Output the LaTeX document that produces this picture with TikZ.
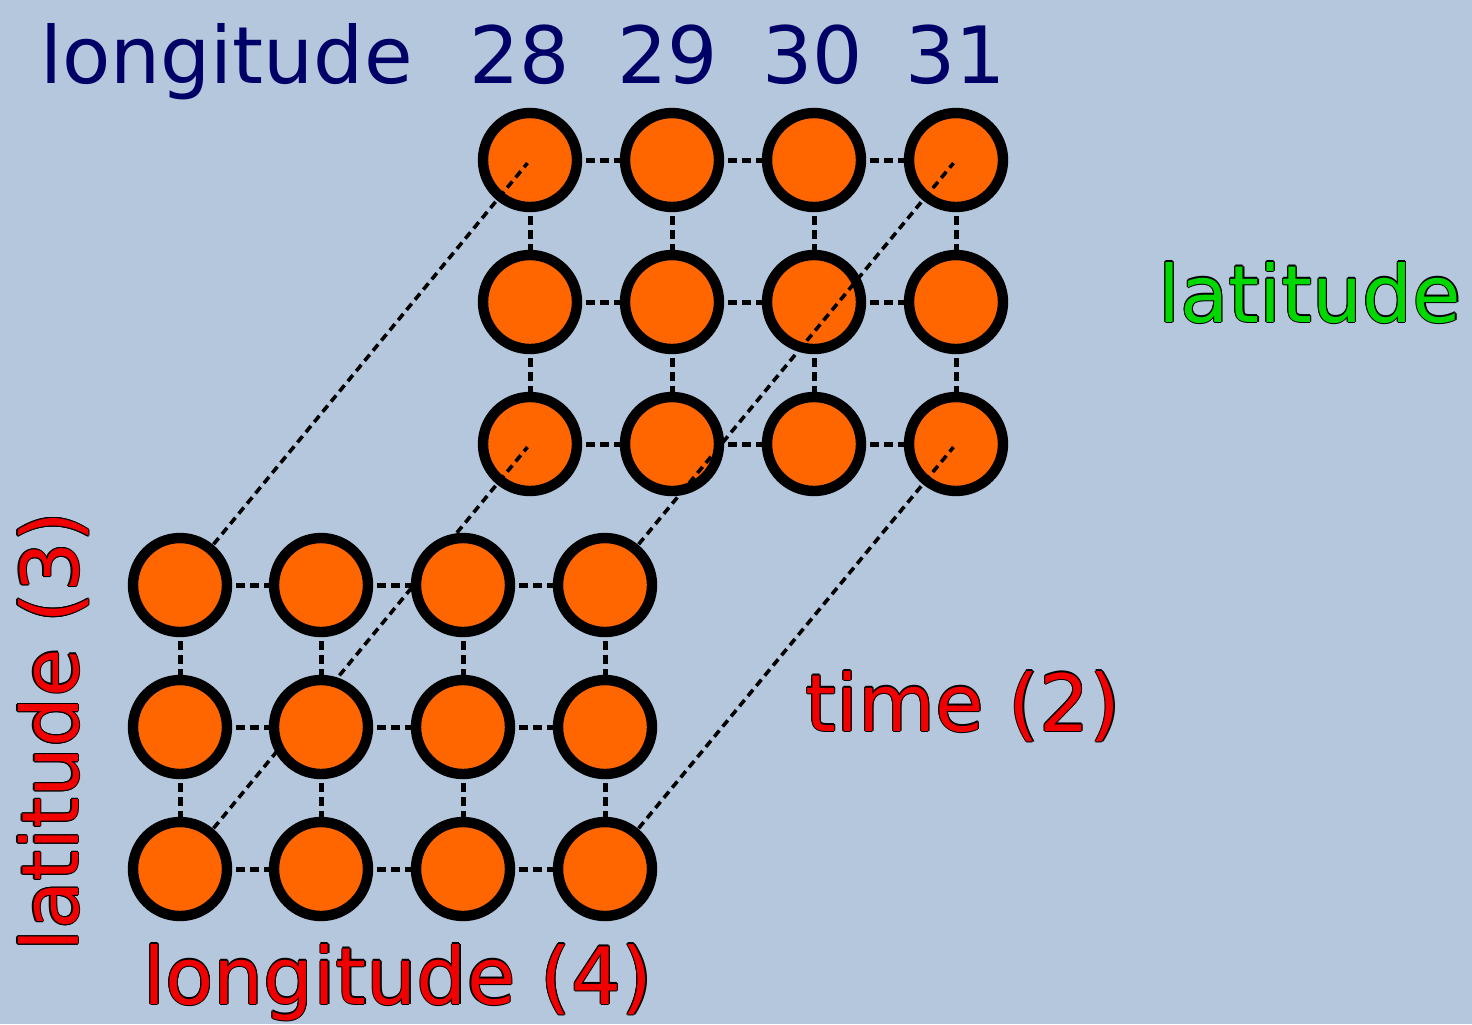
\documentclass[tikz,border=0pt]{standalone}
\usepackage{fontspec}
\setmainfont{DejaVu Sans}
\definecolor{bgblue}{HTML}{B4C7DD}
\definecolor{ballor}{HTML}{FF6600}
\definecolor{navytxt}{HTML}{000066}
\definecolor{redtxt}{HTML}{F00000}
\definecolor{greentxt}{HTML}{00D800}
\newcommand\olshift[3]{\rlap{\color{black}\kern#1\raisebox{#2}{#3}}}
\newcommand\outlinedtxt[2]{\leavevmode
  \olshift{0.6pt}{0pt}{#2}\olshift{-0.6pt}{0pt}{#2}%
  \olshift{0pt}{0.6pt}{#2}\olshift{0pt}{-0.6pt}{#2}%
  \olshift{0.42pt}{0.42pt}{#2}\olshift{-0.42pt}{0.42pt}{#2}%
  \olshift{0.42pt}{-0.42pt}{#2}\olshift{-0.42pt}{-0.42pt}{#2}%
  {\color{#1}#2}}
\pgfdeclarelayer{gridlayer}
\pgfdeclarelayer{backlayer}
\pgfdeclarelayer{diaglayer}
\pgfsetlayers{gridlayer,backlayer,diaglayer,main}
\tikzset{
  ball/.style={circle, draw=black, fill=ballor, line width=5.2pt, minimum size=47pt, inner sep=0pt},
  gridline/.style={draw=black, line width=2.5pt, dash pattern=on 4.5pt off 2.5pt},
  diagline/.style={draw=black, line width=1.8pt, dash pattern=on 4pt off 2.6pt},
  lab/.style={inner sep=0pt, font=\fontsize{39.5pt}{47pt}\selectfont}
}
\begin{document}
\begin{tikzpicture}[x=0.5pt,y=-0.5pt]
\begin{pgfonlayer}{gridlayer}
  \fill[bgblue] (0,0) rectangle (1472,1024);
\end{pgfonlayer}
\useasboundingbox (0,0) rectangle (1472,1024);
% back grid
\begin{pgfonlayer}{backlayer}
\foreach \r/\y in {1/160,2/302,3/444}{
  \foreach \c/\x in {1/530,2/672,3/814,4/956}{
    \node[ball] (b\r\c) at (\x,\y) {};
  }}
\end{pgfonlayer}
% front grid
\foreach \r/\y in {1/585,2/727,3/869}{
  \foreach \c/\x in {1/180,2/321,3/463,4/605}{
    \node[ball] (f\r\c) at (\x,\y) {};
  }}
\begin{pgfonlayer}{gridlayer}
\foreach \g in {b,f}{
  \foreach \r in {1,2,3}{
    \foreach \c/\d in {1/2,2/3,3/4}{
      \draw[gridline] (\g\r\c.center) -- (\g\r\d.center);
    }}
  \foreach \c in {1,2,3,4}{
    \foreach \r/\s in {1/2,2/3}{
      \draw[gridline] (\g\r\c.center) -- (\g\s\c.center);
    }}
}
\end{pgfonlayer}
\begin{pgfonlayer}{diaglayer}
\foreach \a in {11,31,14,34}{
  \draw[diagline, shorten >=2pt] (f\a.center) -- (b\a.center);
}
\end{pgfonlayer}
% labels
\node[lab, text=navytxt, anchor=base west] (lontop) at (40,83) {longitude};
\node[lab, text=navytxt, anchor=base] (n28) at (520,83) {28};
\node[lab, text=navytxt, anchor=base] (n29) at (668,83) {29};
\node[lab, text=navytxt, anchor=base] (n30) at (813,83) {30};
\node[lab, text=navytxt, anchor=base] (n31) at (956,83) {31};
\node[lab, anchor=base west] (latgreen) at (1158,322) {\outlinedtxt{greentxt}{latitude}};
\node[lab, anchor=base west] (timelab) at (805,731) {\outlinedtxt{redtxt}{time (2)}};
\node[lab, anchor=base west] (lonlab) at (143,1004) {\outlinedtxt{redtxt}{longitude (4)}};
\node[lab, anchor=base west, rotate=90] (latlab) at (78,952) {\outlinedtxt{redtxt}{latitude (3)}};
\end{tikzpicture}
\end{document}
